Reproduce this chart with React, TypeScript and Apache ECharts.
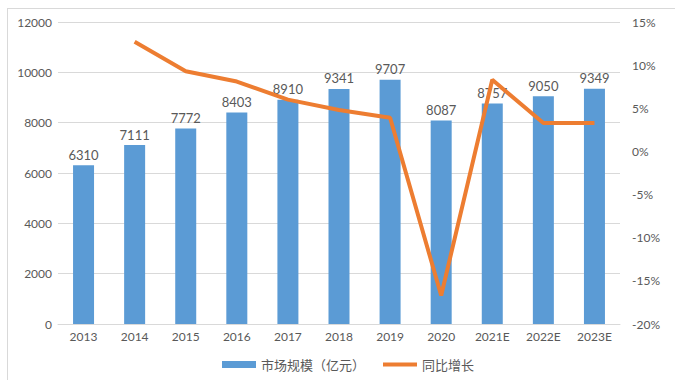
import React, { useEffect, useRef } from "react";
import * as echarts from "echarts";

const categories = ["2013", "2014", "2015", "2016", "2017", "2018", "2019", "2020", "2021E", "2022E", "2023E"];
const marketSize = [6310, 7111, 7772, 8403, 8910, 9341, 9707, 8087, 8757, 9050, 9349];
const growthPct: (number | null)[] = [null, 12.7, 9.3, 8.1, 6.0, 4.8, 3.9, -16.7, 8.3, 3.3, 3.3];
const leftTicks = { min: 0, max: 12000, interval: 2000 };
const rightTicks = { min: -20, max: 15, interval: 5 };

const FONT = "Lato, 'Noto Sans CJK SC', sans-serif";
const TXT = "#595959";

export default function App() {
  const ref = useRef<HTMLDivElement>(null);
  useEffect(() => {
    if (!ref.current) return;
    const chart = echarts.init(ref.current, null, { renderer: "svg" });
    chart.setOption({
      animation: false,
      backgroundColor: "#fff",
      textStyle: { fontFamily: FONT },
      graphic: [
        { type: "line", shape: { x1: 7, y1: 8.5, x2: 675, y2: 8.5 }, style: { stroke: "#D9D9D9", lineWidth: 1 } },
        { type: "line", shape: { x1: 7.5, y1: 8, x2: 7.5, y2: 380 }, style: { stroke: "#D9D9D9", lineWidth: 1 } },
      ],
      grid: { left: 58, right: 55, top: 22, bottom: 56, containLabel: false },
      legend: {
        bottom: 4,
        left: 217,
        itemWidth: 34,
        itemHeight: 7,
        itemGap: 18,
        textStyle: { color: TXT, fontSize: 13, fontFamily: FONT },
        data: [
          { name: "市场规模（亿元）", icon: "rect" },
          { name: "同比增长", icon: "path://M0,0H34V4H0Z" },
        ],
      },
      xAxis: {
        type: "category",
        data: categories,
        axisLine: { lineStyle: { color: "#D9D9D9" } },
        axisTick: { show: false },
        axisLabel: { color: TXT, fontSize: 12, margin: 6, fontFamily: FONT },
      },
      yAxis: [
        {
          type: "value",
          min: leftTicks.min,
          max: leftTicks.max,
          interval: leftTicks.interval,
          axisLine: { show: false },
          axisTick: { show: false },
          axisLabel: { color: TXT, fontSize: 12, margin: 6, fontFamily: FONT, formatter: (v: number) => String(v) },
          splitLine: { lineStyle: { color: "#D9D9D9" } },
        },
        {
          type: "value",
          min: rightTicks.min,
          max: rightTicks.max,
          interval: rightTicks.interval,
          axisLine: { show: false },
          axisTick: { show: false },
          axisLabel: { color: TXT, fontSize: 12, margin: 12, formatter: "{value}%", fontFamily: FONT },
          splitLine: { show: false },
        },
      ],
      series: [
        {
          name: "市场规模（亿元）",
          type: "bar",
          data: marketSize,
          barWidth: 21,
          itemStyle: { color: "#5B9BD5" },
          label: { show: true, position: "top", color: TXT, fontSize: 13, distance: 4, fontFamily: FONT },
        },
        {
          name: "同比增长",
          type: "line",
          yAxisIndex: 1,
          data: growthPct,
          showSymbol: false,
          symbol: "none",
          lineStyle: { color: "#ED7D31", width: 4 },
          itemStyle: { color: "#ED7D31" },
        },
      ],
    });
    return () => chart.dispose();
  }, []);
  return <div ref={ref} style={{ position: "fixed", left: 0, top: 0, width: 675, height: 380 }} />;
}
